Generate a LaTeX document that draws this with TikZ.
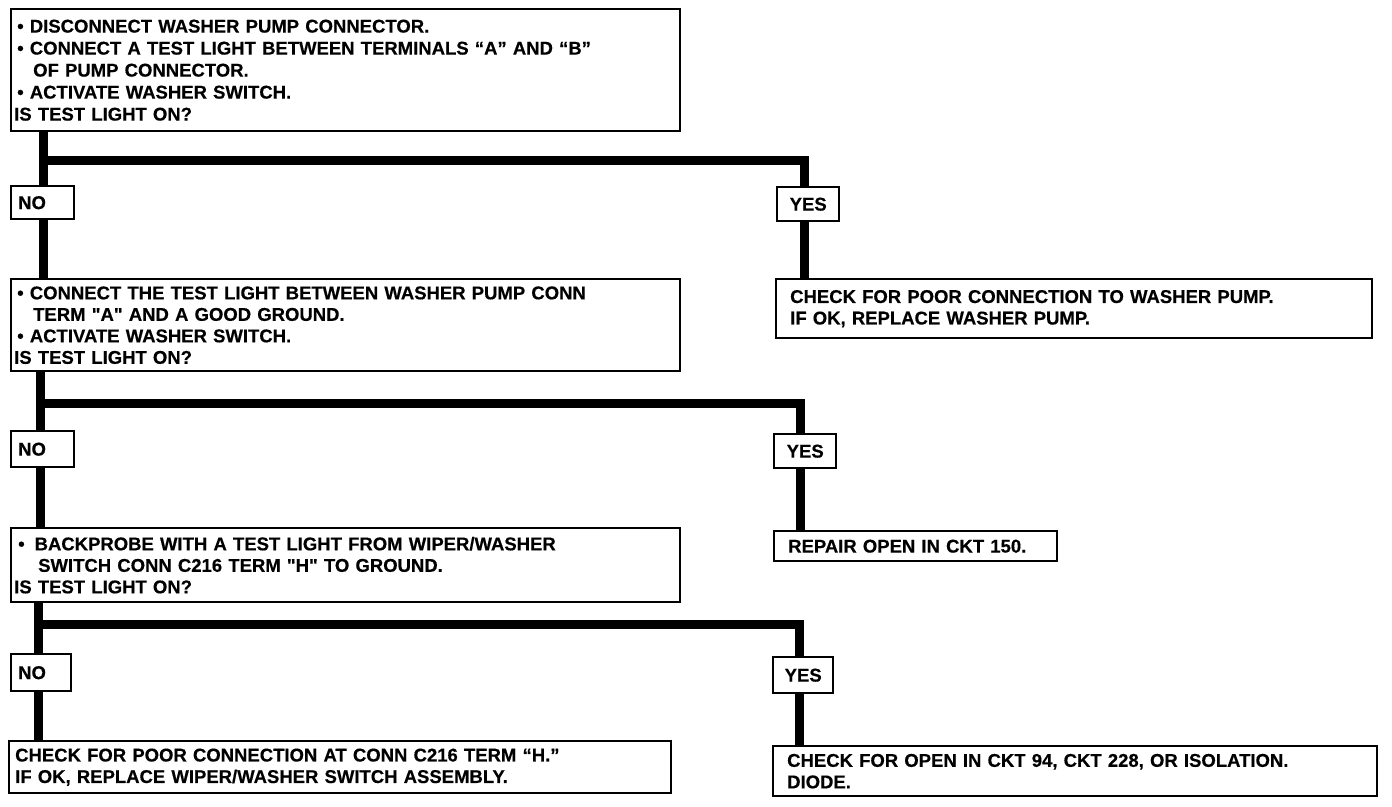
\documentclass[tikz,border=0pt]{standalone}
\usepackage{fontspec}
\setmainfont{Liberation Sans}[BoldFeatures={FakeBold=0.4}]
\pgfdeclarelayer{bg}
\pgfsetlayers{bg,main}
\begin{document}
\begin{tikzpicture}[x=1pt,y=-1pt,
  every node/.style={font=\fontsize{18.5}{21.5}\selectfont\bfseries},
  box/.style={draw,line width=2.4pt,fill=white,anchor=north west,align=left,inner ysep=0pt},
  tag/.style={draw,line width=2.4pt,fill=white,anchor=north west,inner ysep=0pt},
  conn/.style={line width=9pt,line join=miter,line cap=butt}]
\useasboundingbox (0,0) rectangle (1392,806);

% question boxes
\node[box,inner xsep=3pt,text width=663pt,minimum height=122pt,
      font=\fontsize{18.5}{22}\selectfont\bfseries] (q1) at (10,8)
 {\hspace*{3pt}•\ DISCONNECT WASHER PUMP CONNECTOR.\\
  \hspace*{3pt}•\ CONNECT A TEST LIGHT BETWEEN TERMINALS “A” AND “B”\\
  \hspace*{19pt}OF PUMP CONNECTOR.\\
  \hspace*{3pt}•\ ACTIVATE WASHER SWITCH.\\
  IS TEST LIGHT ON?};
\node[box,inner xsep=3pt,text width=663pt,minimum height=92pt] (q2) at (10,278)
 {\hspace*{3pt}•\ CONNECT THE TEST LIGHT BETWEEN WASHER PUMP CONN\\
  \hspace*{19pt}TERM \textquotedbl A\textquotedbl\ AND A GOOD GROUND.\\
  \hspace*{3pt}•\ ACTIVATE WASHER SWITCH.\\
  IS TEST LIGHT ON?};
\node[box,inner xsep=3pt,text width=663pt,minimum height=74pt] (q3) at (10,527)
 {\hspace*{4pt}•\hspace*{10pt}BACKPROBE WITH A TEST LIGHT FROM WIPER/WASHER\\
  \hspace*{24pt}SWITCH CONN C216 TERM \textquotedbl H\textquotedbl\ TO GROUND.\\
  IS TEST LIGHT ON?};

% result boxes
\node[box,inner xsep=14pt,text width=568pt,minimum height=59pt] (chk1) at (775,278)
 {CHECK FOR POOR CONNECTION TO WASHER PUMP.\\
  IF OK, REPLACE WASHER PUMP.};
\node[box,inner xsep=14pt,text width=255pt,minimum height=30pt] (rep) at (773,530)
 {REPAIR OPEN IN CKT 150.};
\node[box,inner xsep=6pt,text width=650pt,minimum height=52pt] (fl) at (8,740)
 {CHECK FOR POOR CONNECTION AT CONN C216 TERM “H.”\\
  IF OK, REPLACE WIPER/WASHER SWITCH ASSEMBLY.};
\node[box,inner xsep=14pt,text width=576pt,minimum height=50pt] (fr) at (772,745)
 {CHECK FOR OPEN IN CKT 94, CKT 228, OR ISOLATION.\\
  DIODE.};

% answer tags
\node[tag,inner xsep=7pt,text width=49pt,align=left,minimum height=33pt] (no1) at (10,185) {NO};
\node[tag,inner xsep=0pt,text width=62pt,align=center,minimum height=34pt] (yes1) at (776,186) {YES};
\node[tag,inner xsep=7pt,text width=49pt,align=left,minimum height=36pt] (no2) at (10,430) {NO};
\node[tag,inner xsep=0pt,text width=62pt,align=center,minimum height=34pt] (yes2) at (773,433) {YES};
\node[tag,inner xsep=7pt,text width=46pt,align=left,minimum height=37pt] (no3) at (10,653) {NO};
\node[tag,inner xsep=0pt,text width=60pt,align=center,minimum height=36pt] (yes3) at (772,656) {YES};

% branch points
\coordinate (j1) at (43,160);
\coordinate (k1) at (804,160);
\coordinate (j2) at (40,403);
\coordinate (k2) at (800,403);
\coordinate (j3) at (38,624);
\coordinate (k3) at (799,624);

\begin{pgfonlayer}{bg}
\draw[conn] (j1 |- q1.south) -- (j1 |- q2.north);
\draw[conn] (j1) -- (k1) -- (k1 |- chk1.north);
\draw[conn] (j2 |- q2.south) -- (j2 |- q3.north);
\draw[conn] (j2) -- (k2) -- (k2 |- rep.north);
\draw[conn] (j3 |- q3.south) -- (j3 |- fl.north);
\draw[conn] (j3) -- (k3) -- (k3 |- fr.north);
\end{pgfonlayer}
\end{tikzpicture}
\end{document}
